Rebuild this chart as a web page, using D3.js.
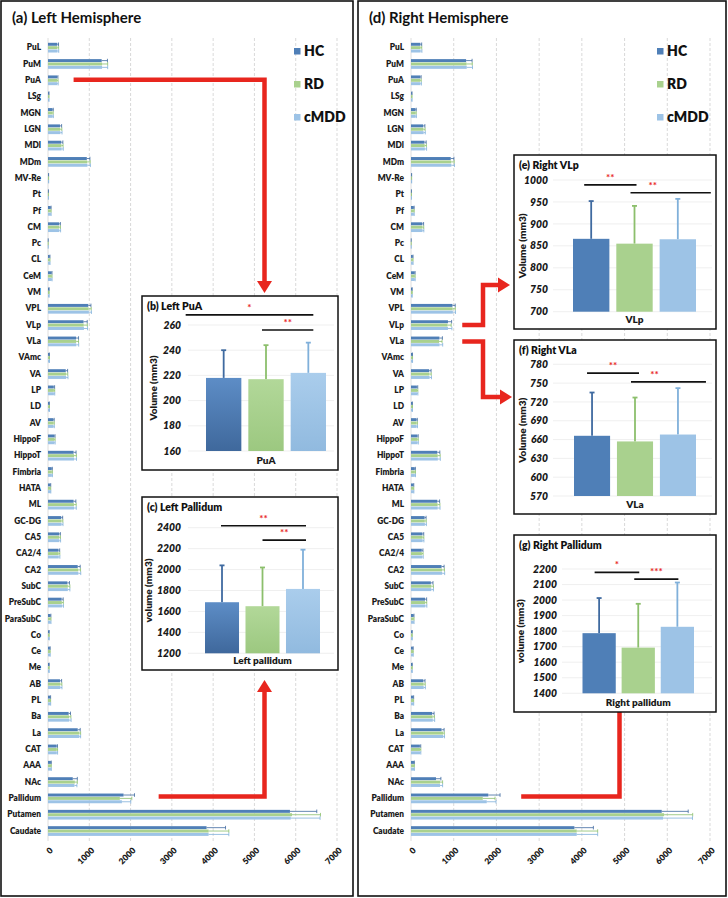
<!DOCTYPE html>
<html><head><meta charset="utf-8">
<script src="https://cdn.jsdelivr.net/npm/d3@7"></script>
<style>
body{margin:0;background:#fff;}
svg{display:block;}
</style></head>
<body><svg id="fig" width="728" height="898"></svg>
<script>
// ---- data ----
const regions = ['PuL','PuM','PuA','LSg','MGN','LGN','MDl','MDm','MV-Re','Pt','Pf','CM','Pc','CL','CeM','VM','VPL','VLp','VLa','VAmc','VA','LP','LD','AV','HippoF','HippoT','Fimbria','HATA','ML','GC-DG','CA5','CA2/4','CA2','SubC','PreSubC','ParaSubC','Co','Ce','Me','AB','PL','Ba','La','CAT','AAA','NAc','Pallidum','Putamen','Caudate'];
const groups = ['HC', 'RD', 'cMDD'];
const xTicks = [0, 1000, 2000, 3000, 4000, 5000, 6000, 7000];

const leftHC   = [225,1300,218,20,110,290,320,940,12,8,65,270,4,40,85,25,975,860,680,30,430,140,28,130,150,620,90,58,620,320,270,255,720,470,330,60,25,45,25,290,55,500,720,210,70,600,1830,5860,3840];
const leftRD   = [228,1310,217,20,108,295,325,950,12,8,66,272,4,40,86,25,985,865,682,31,435,142,30,132,152,630,92,58,628,325,272,258,730,480,335,62,25,45,25,298,55,510,760,212,70,650,1740,5910,3890];
const leftMDD  = [230,1310,222,21,112,300,330,955,13,8,66,275,4,41,87,25,990,870,685,31,440,143,30,133,153,632,92,60,630,328,275,260,735,480,338,62,26,46,25,300,56,515,760,212,71,640,1790,5880,3890];
const leftHCsd = [30,140,22,5,18,40,40,75,3,2,10,30,1,8,12,4,65,90,60,5,45,20,6,20,20,60,15,8,55,35,30,28,60,50,38,10,5,8,5,40,8,45,60,20,10,110,265,650,460];
const leftRDsd = [30,135,27,5,18,40,40,72,3,2,10,30,1,8,12,4,62,88,58,5,44,20,6,20,20,58,15,8,55,35,30,28,58,50,36,10,5,8,5,38,8,44,30,20,10,60,290,690,490];
const leftMDDsd= [30,135,24,5,18,40,40,72,3,2,10,30,1,8,12,4,62,88,58,5,44,20,6,20,20,58,15,8,55,35,30,28,58,50,36,10,5,8,5,38,8,44,30,20,10,60,215,710,490];

const rightHC   = [220,1290,215,20,105,285,315,930,12,8,64,265,4,40,84,25,970,865,665,30,425,138,28,128,148,615,88,57,615,318,268,252,715,465,328,60,25,44,25,288,54,495,715,208,69,585,1810,5870,3825];
const rightRD   = [222,1300,214,20,104,290,320,940,12,8,65,268,4,40,85,25,975,855,657,31,430,140,29,130,150,625,90,57,622,322,270,255,725,475,332,61,25,44,25,295,54,505,750,210,69,680,1680,5925,3880];
const rightMDD  = [225,1305,219,21,108,295,325,945,13,8,65,270,4,41,86,25,980,865,668,31,435,141,29,131,151,628,90,59,625,325,272,258,730,475,335,61,26,45,25,298,55,510,755,210,70,680,1773,5900,3880];
const rightHCsd = [30,140,22,5,18,40,40,75,3,2,10,30,1,8,12,4,65,86,70,5,45,20,6,20,20,60,15,8,55,35,30,28,60,50,38,10,5,8,5,40,8,45,60,20,10,115,275,620,445];
const rightRDsd = [30,135,25,5,18,40,40,72,3,2,10,30,1,8,12,4,62,86,70,5,44,20,6,20,20,58,15,8,55,35,30,28,58,50,36,10,5,8,5,38,8,44,30,20,10,60,287,670,490];
const rightMDDsd= [30,135,24,5,18,40,40,72,3,2,10,30,1,8,12,4,62,92,74,5,44,20,6,20,20,58,15,8,55,35,30,28,58,50,36,10,5,8,5,38,8,44,30,20,10,60,217,690,490];

// inset values: mean and SD for HC, RD, cMDD
const puaMean = [218, 217, 222],   puaSd = [22, 27, 24];
const lpalMean = [1688, 1650, 1815], lpalSd = [352, 370, 375];
const vlpMean = [866, 855, 865],   vlpSd = [86, 86, 92];
const vlaMean = [666, 657, 668],   vlaSd = [69, 70, 74];
const rpalMean = [1787, 1694, 1828], rpalSd = [226, 282, 285];

// ---- setup ----
const FONT = 'Lato, "Open Sans", "DejaVu Sans", sans-serif';
const colors = ['#4f7fb7', '#a9d18e', '#9dc3e6'];
const errColors = ['#3f6aa0', '#8cbf6c', '#80b0da'];
const RED = '#e8261e';

const svg = d3.select('#fig').attr('font-family', FONT);
const defs = svg.append('defs');
const gradStops = [['#5d8dc6', '#3f689c'], ['#b2d899', '#9cc880'], ['#aacdec', '#91badf']];
gradStops.forEach((s, k) => {
  const gr = defs.append('linearGradient').attr('id', 'barGrad' + k)
    .attr('x1', 0).attr('y1', 0).attr('x2', 0).attr('y2', 1);
  gr.append('stop').attr('offset', '0%').attr('stop-color', s[0]);
  gr.append('stop').attr('offset', '100%').attr('stop-color', s[1]);
});

// ---- hemisphere panel ----
function drawHemisphere(cfg, series, sds) {
  const g = svg.append('g');
  g.append('rect')
    .attr('x', cfg.frame[0]).attr('y', cfg.frame[1])
    .attr('width', cfg.frame[2]).attr('height', cfg.frame[3])
    .attr('fill', '#fff').attr('stroke', '#111').attr('stroke-width', 1.6);

  g.append('text')
    .attr('x', cfg.frame[0] + 11).attr('y', 23)
    .attr('font-size', 15).attr('font-weight', 700).attr('fill', '#111')
    .text(cfg.title);

  const x = d3.scaleLinear().domain([0, 7000]).range([cfg.x0, cfg.x1]);
  const y = d3.scaleBand().domain(regions).range([39.5, 839.2])
    .paddingInner(0.38).paddingOuter(0.19);
  const y1 = d3.scaleBand().domain(groups).range([0, y.bandwidth()]);

  // grid
  g.append('g').selectAll('line').data(xTicks.slice(1)).join('line')
    .attr('x1', d => x(d)).attr('x2', d => x(d))
    .attr('y1', 38).attr('y2', 841)
    .attr('stroke', '#cfcfcf').attr('stroke-width', 0.8)
    .attr('stroke-dasharray', '3 2');
  g.append('line')
    .attr('x1', x(0)).attr('x2', x(0)).attr('y1', 38).attr('y2', 841)
    .attr('stroke', '#d6d6d6').attr('stroke-width', 0.8);

  // bars + error bars
  groups.forEach((grp, k) => {
    const vals = series[k], sd = sds[k];
    const gg = g.append('g');
    gg.selectAll('rect').data(regions).join('rect')
      .attr('x', x(0))
      .attr('y', d => y(d) + y1(grp) + 0.2)
      .attr('height', y1.bandwidth() - 0.4)
      .attr('width', (d, i) => x(vals[i]) - x(0))
      .attr('fill', colors[k]);
    const yc = d => y(d) + y1(grp) + y1.bandwidth() / 2;
    gg.selectAll('line.err').data(regions).join('line').attr('class', 'err')
      .attr('x1', (d, i) => x(vals[i])).attr('x2', (d, i) => x(vals[i] + sd[i]))
      .attr('y1', yc).attr('y2', yc)
      .attr('stroke', errColors[k]).attr('stroke-width', 0.8);
    gg.selectAll('line.cap').data(regions).join('line').attr('class', 'cap')
      .attr('x1', (d, i) => x(vals[i] + sd[i])).attr('x2', (d, i) => x(vals[i] + sd[i]))
      .attr('y1', d => yc(d) - 1.8).attr('y2', d => yc(d) + 1.8)
      .attr('stroke', errColors[k]).attr('stroke-width', 0.8);
  });

  // category axis
  const ya = g.append('g')
    .attr('transform', `translate(${cfg.x0},0)`)
    .call(d3.axisLeft(y).tickSize(0).tickPadding(7));
  ya.select('.domain').remove();
  ya.attr('font-family', FONT);
  ya.selectAll('text')
    .attr('font-size', 8.3).attr('font-weight', 800).attr('fill', '#1a1a1a');

  // value axis
  const xa = g.append('g')
    .attr('transform', 'translate(0,842)')
    .call(d3.axisBottom(x).tickValues(xTicks).tickSize(0).tickFormat(d3.format('d')));
  xa.select('.domain').remove();
  xa.attr('font-family', FONT);
  xa.selectAll('text')
    .attr('y', 0).attr('dy', '0.35em')
    .attr('text-anchor', 'end')
    .attr('transform', 'translate(3,7) rotate(-45)')
    .attr('font-size', 8.5).attr('font-weight', 800).attr('fill', '#1a1a1a');

  // legend
  const lg = g.append('g');
  groups.forEach((grp, k) => {
    lg.append('rect')
      .attr('x', cfg.legX).attr('y', 48 + 33 * k)
      .attr('width', 6.5).attr('height', 6.5).attr('fill', colors[k]);
    lg.append('text')
      .attr('x', cfg.legX + 10).attr('y', 56 + 33 * k)
      .attr('font-size', 14).attr('font-weight', 800).attr('fill', '#111')
      .text(grp);
  });
  return { x, y };
}

// ---- inset bar chart ----
function drawInset(c, means, sds, sig) {
  const g = svg.append('g');
  g.append('rect')
    .attr('x', c.box[0]).attr('y', c.box[1])
    .attr('width', c.box[2]).attr('height', c.box[3])
    .attr('fill', '#fff').attr('stroke', '#111').attr('stroke-width', 1.5);
  g.append('text')
    .attr('x', c.box[0] + 5).attr('y', c.box[1] + 14)
    .attr('font-size', 10.5).attr('font-weight', 800).attr('fill', '#111')
    .text(c.title);

  const y = d3.scaleLinear().domain(c.domain).range(c.yRange);
  const xb = d3.scaleBand().domain(groups).range(c.xRange).paddingInner(c.pad);
  const ticks = d3.range(c.domain[0], c.domain[1] + c.step / 2, c.step);

  g.append('g').selectAll('line').data(ticks).join('line')
    .attr('x1', c.gridX[0]).attr('x2', c.gridX[1])
    .attr('y1', d => y(d)).attr('y2', d => y(d))
    .attr('stroke', '#ebebeb').attr('stroke-width', 0.8);

  g.append('g').selectAll('text').data(ticks).join('text')
    .attr('x', c.tickX).attr('y', d => y(d)).attr('dy', '0.35em')
    .attr('text-anchor', 'end')
    .attr('font-size', 10.3).attr('font-weight', 800).attr('font-style', 'italic')
    .attr('fill', '#1a1a1a')
    .text(d => d);

  const midY = (c.yRange[0] + c.yRange[1]) / 2;
  g.append('text')
    .attr('transform', `translate(${c.titleX},${midY}) rotate(-90)`)
    .attr('text-anchor', 'middle')
    .attr('font-size', 10).attr('font-weight', 800).attr('fill', '#1a1a1a')
    .text(c.yLabel);

  // error bars behind bars
  groups.forEach((grp, k) => {
    const cx = xb(grp) + xb.bandwidth() / 2;
    g.append('line')
      .attr('x1', cx).attr('x2', cx)
      .attr('y1', y(means[k])).attr('y2', y(means[k] + sds[k]))
      .attr('stroke', errColors[k]).attr('stroke-width', 1.8);
    g.append('line')
      .attr('x1', cx - 2.5).attr('x2', cx + 2.5)
      .attr('y1', y(means[k] + sds[k])).attr('y2', y(means[k] + sds[k]))
      .attr('stroke', errColors[k]).attr('stroke-width', 1.8);
  });

  g.append('g').selectAll('rect').data(groups).join('rect')
    .attr('x', d => xb(d))
    .attr('y', (d, k) => y(means[k]))
    .attr('width', xb.bandwidth())
    .attr('height', (d, k) => y(c.domain[0]) - y(means[k]))
    .attr('fill', (d, k) => c.flat ? colors[k] : `url(#barGrad${k})`);

  // significance brackets
  sig.forEach(s => {
    const xa = xb(s.from) + xb.bandwidth() / 2 + s.ext[0];
    const xe = xb(s.to) + xb.bandwidth() / 2 + s.ext[1];
    g.append('line')
      .attr('x1', xa).attr('x2', xe)
      .attr('y1', y(s.at)).attr('y2', y(s.at))
      .attr('stroke', '#111').attr('stroke-width', 1.6);
    g.append('text')
      .attr('x', (xa + xe) / 2 + (s.dx || 0)).attr('y', y(s.at) - 4)
      .attr('text-anchor', 'middle')
      .attr('font-size', 10).attr('font-weight', 700).attr('fill', RED)
      .text(s.mark);
  });

  g.append('text')
    .attr('x', (c.xRange[0] + c.xRange[1]) / 2).attr('y', c.box[1] + c.box[3] - 6)
    .attr('text-anchor', 'middle')
    .attr('font-size', 10).attr('font-weight', 800).attr('fill', '#1a1a1a')
    .text(c.category);
}

// ---- draw ----
const L = drawHemisphere({ frame: [1, 1, 352, 895], title: '(a) Left Hemisphere', x0: 48, x1: 337, legX: 294 },
  [leftHC, leftRD, leftMDD], [leftHCsd, leftRDsd, leftMDDsd]);
const R = drawHemisphere({ frame: [358, 1, 368, 895], title: '(d) Right Hemisphere', x0: 411, x1: 710, legX: 657 },
  [rightHC, rightRD, rightMDD], [rightHCsd, rightRDsd, rightMDDsd]);

// red call-out arrows
const arrows = svg.append('g');
function arrow(points, tip, dir) {
  arrows.append('path')
    .attr('d', d3.line()(points))
    .attr('fill', 'none').attr('stroke', RED).attr('stroke-width', 4.5)
    .attr('stroke-linejoin', 'miter');
  const [tx, ty] = tip, s = 7.5, l = 12;
  const head = dir === 'down' ? [[tx - s, ty - l], [tx + s, ty - l], [tx, ty]]
    : dir === 'up' ? [[tx - s, ty + l], [tx + s, ty + l], [tx, ty]]
    : [[tx - l, ty - s], [tx - l, ty + s], [tx, ty]];
  arrows.append('polygon').attr('points', head.join(' ')).attr('fill', RED);
}
const yL = L.y, bw = L.y.bandwidth() / 2;
arrow([[L.x(620), yL('PuA') + bw - 0.5], [264.5, yL('PuA') + bw - 0.5], [264.5, 282]], [264.5, 293], 'down');
arrow([[L.x(2680), yL('Pallidum') + bw - 2], [264.5, yL('Pallidum') + bw - 2], [264.5, 690]], [264.5, 680], 'up');
arrow([[R.x(1200), R.y('VLp') + bw], [483, R.y('VLp') + bw], [483, 285], [500, 285]], [510, 285], 'right');
arrow([[R.x(1200), R.y('VLa') + bw], [483, R.y('VLa') + bw], [483, 397], [502, 397]], [512, 397], 'right');
arrow([[R.x(2580), R.y('Pallidum') + bw - 2], [619.5, R.y('Pallidum') + bw - 2], [619.5, 694]], [619.5, 684], 'up');

// insets
drawInset({ box: [142, 296, 196, 174], title: '(b) Left PuA', domain: [160, 260], step: 20,
  yRange: [451, 325], xRange: [206, 326], pad: 0.165, gridX: [188, 334], tickX: 181,
  titleX: 157, yLabel: 'Volume (mm3)', category: 'PuA' },
  puaMean, puaSd,
  [{ from: 'HC', to: 'cMDD', at: 268, mark: '*', ext: [-38, 5] },
   { from: 'RD', to: 'cMDD', at: 256, mark: '**', ext: [-4, 5] }]);

drawInset({ box: [142, 497, 196, 173], title: '(c) Left Pallidum', domain: [1200, 2400], step: 200,
  yRange: [653.3, 527.7], xRange: [205, 320], pad: 0.16, gridX: [188, 334], tickX: 181,
  titleX: 152, yLabel: 'volume (mm3)', category: 'Left pallidum' },
  lpalMean, lpalSd,
  [{ from: 'HC', to: 'cMDD', at: 2418, mark: '**', ext: [-1, 3] },
   { from: 'RD', to: 'cMDD', at: 2281, mark: '**', ext: [0, 3] }]);

drawInset({ box: [514, 155, 202, 174], title: '(e) Right VLp', domain: [700, 1000], step: 50,
  yRange: [311.7, 180], xRange: [573, 696], pad: 0.16, gridX: [553, 712], tickX: 548,
  titleX: 526, yLabel: 'Volume (mm3)', category: 'VLp', flat: true },
  vlpMean, vlpSd,
  [{ from: 'HC', to: 'RD', at: 989, mark: '**', ext: [-7, 2] },
   { from: 'RD', to: 'cMDD', at: 971, mark: '**', ext: [-4, 33], dx: -18 }]);

drawInset({ box: [514, 340, 202, 174], title: '(f) Right VLa', domain: [570, 780], step: 30,
  yRange: [496, 364.3], xRange: [574, 696], pad: 0.16, gridX: [553, 712], tickX: 548,
  titleX: 526, yLabel: 'Volume (mm3)', category: 'VLa', flat: true },
  vlaMean, vlaSd,
  [{ from: 'HC', to: 'RD', at: 766, mark: '**', ext: [-5, 4] },
   { from: 'RD', to: 'cMDD', at: 752, mark: '**', ext: [-4, 28], dx: -14 }]);

drawInset({ box: [514, 535, 202, 177], title: '(g) Right Pallidum', domain: [1400, 2200], step: 100,
  yRange: [693.3, 569], xRange: [582.5, 694], pad: 0.15, gridX: [562, 712], tickX: 557,
  titleX: 524, yLabel: 'volume (mm3)', category: 'Right pallidum', flat: true },
  rpalMean, rpalSd,
  [{ from: 'HC', to: 'RD', at: 2178, mark: '*', ext: [-4.5, 1] },
   { from: 'RD', to: 'cMDD', at: 2135, mark: '***', ext: [-4, 1] }]);
</script>
</body></html>
